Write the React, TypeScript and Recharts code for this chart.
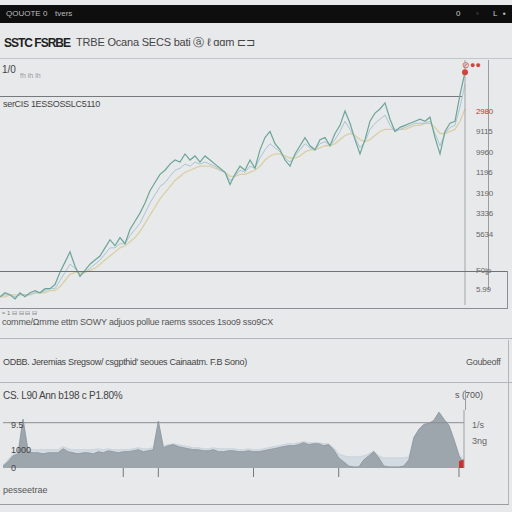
import React from "react";
import { ComposedChart, Line, Area, XAxis, YAxis, ReferenceLine, ReferenceDot } from "recharts";

// price panel, one value every 5px of the plot
const priceMain = [
  104, 106, 105, 103, 106, 104, 106, 107, 106, 108,
  108, 110, 116, 121, 126, 119, 114, 117, 120, 122,
  124, 128, 132, 129, 133, 130, 137, 141, 145, 150,
  156, 160, 164, 166, 169, 171, 170, 174, 171, 173,
  170, 173, 171, 169, 167, 165, 159, 164, 168, 166,
  171, 167, 176, 182, 185, 179, 176, 171, 168, 174,
  178, 182, 178, 176, 181, 182, 178, 184, 188, 195,
  189, 181, 174, 181, 190, 194, 196, 199, 191, 185,
  187, 188, 189, 190, 191, 190, 192, 182, 174, 185,
  189, 190, 203, 214,
];
const priceAvg = [
  104, 104, 105, 105, 105, 105, 105, 106, 106, 106,
  107, 107, 109, 112, 115, 116, 116, 116, 117, 118,
  120, 122, 124, 126, 128, 129, 131, 133, 136, 140,
  144, 148, 152, 155, 158, 161, 163, 165, 166, 167,
  168, 168, 168, 167, 166, 165, 163, 163, 164, 164,
  165, 166, 168, 171, 173, 174, 174, 173, 172, 172,
  173, 175, 176, 176, 177, 178, 178, 179, 181, 183,
  184, 183, 181, 180, 181, 183, 185, 186, 186, 186,
  186, 186, 187, 188, 188, 189, 189, 187, 184, 184,
  185, 186, 190, 196,
];
const priceAlt = [
  104, 105, 105, 104, 105, 105, 105, 106, 106, 107,
  108, 108, 112, 116, 120, 118, 115, 116, 118, 120,
  122, 125, 128, 128, 130, 130, 134, 137, 140, 145,
  150, 154, 158, 160, 163, 166, 167, 169, 168, 170,
  169, 170, 169, 168, 166, 165, 161, 163, 166, 165,
  168, 167, 172, 176, 179, 177, 175, 172, 170, 173,
  176, 179, 177, 176, 179, 180, 178, 181, 185, 190,
  186, 182, 177, 180, 186, 189, 191, 193, 188, 185,
  186, 187, 188, 189, 189, 189, 190, 184, 178, 184,
  187, 188, 197, 208,
];
const priceTicks = [108, 117, 135, 145, 155, 165, 175, 185, 195];
const priceTickLabels = ["5.99", "F0|p", "5634", "3336", "3190", "1196", "9960", "9115", "2980"];

// volume panel
const volume = [
  110, 340, 670, 780, 2690, 900, 840, 840, 780, 840,
  840, 840, 1060, 900, 840, 780, 840, 840, 780, 900,
  840, 950, 900, 840, 900, 900, 950, 1010, 900, 950,
  1010, 2580, 1120, 1230, 1290, 1180, 1120, 1060, 1010, 1010,
  950, 950, 1010, 900, 900, 950, 950, 900, 900, 950,
  900, 900, 950, 1010, 1060, 1120, 1180, 1230, 1230, 1290,
  1400, 1290, 1340, 1340, 1230, 1290, 1010, 560, 340, 110,
  60, 60, 450, 670, 900, 560, 110, 60, 60, 60,
  110, 450, 1680, 2130, 2410, 2460, 2630, 3080, 2690, 2350,
  1570, 670, 220,
];
const volumeShade = [
  170, 450, 780, 950, 2690, 1060, 1010, 1010, 1010, 1010,
  1010, 1010, 1180, 1060, 1010, 1010, 1010, 1010, 1010, 1060,
  1010, 1060, 1010, 1010, 1010, 1010, 1060, 1120, 1060, 1060,
  1120, 2580, 1230, 1290, 1340, 1290, 1230, 1180, 1120, 1120,
  1060, 1060, 1120, 1060, 1060, 1060, 1060, 1010, 1010, 1060,
  1010, 1010, 1060, 1120, 1180, 1230, 1290, 1340, 1340, 1400,
  1460, 1400, 1400, 1400, 1340, 1340, 1120, 780, 670, 620,
  620, 620, 670, 780, 950, 670, 560, 560, 560, 560,
  560, 620, 1680, 2130, 2410, 2460, 2630, 3080, 2690, 2350,
  1570, 780, 400,
];
const volumeLast = [350, 450];
const volLeftTicks = [0, 1000, 2400];
const volLeftLabels = ["0", "1000", "9.5"];
const volRightTicks = [1500, 2400];
const volRightLabels = ["3ng", "1/s"];
const volMarks = [24, 31, 50, 67, 91];

const priceData = priceMain.map((v, i) => ({ i, main: v, avg: priceAvg[i], alt: priceAlt[i] }));
const volData = volume.map((v, i) => ({
  i,
  vol: v,
  shade: volumeShade[i],
  last: i >= volume.length - volumeLast.length ? volumeLast[i - (volume.length - volumeLast.length)] : null,
}));

const PriceTick = (props: any) => {
  const { x, y, payload } = props;
  const k = priceTicks.indexOf(payload.value);
  const top = k === priceTicks.length - 1;
  return (
    <text x={x + 3} y={y + 3} fontSize={8} letterSpacing={-0.2} fill={top ? "#c0392b" : "#666"}>
      {priceTickLabels[k]}
    </text>
  );
};

const line = (left: number, top: number, w: number, h: number, c = "#8a8d91") => (
  <div style={{ position: "absolute", left, top, width: w, height: h, background: c }} />
);

const txt = (left: number, top: number, s: string, size = 10, color = "#333", extra: any = {}) => (
  <div style={{ position: "absolute", left, top, fontSize: size, color, whiteSpace: "nowrap", lineHeight: 1, ...extra }}>
    {s}
  </div>
);

export default function App() {
  return (
    <div
      style={{
        position: "fixed",
        left: 0,
        top: 0,
        width: 512,
        height: 512,
        background: "#e8e9eb",
        fontFamily: "'Liberation Sans', Arial, sans-serif",
        overflow: "hidden",
      }}
    >
      {/* top bar */}
      <div style={{ position: "absolute", left: 0, top: 5, width: 512, height: 18, background: "#0e0e0e" }} />
      {txt(6, 10, "QOUOTE 0", 8, "#bbb")}
      {txt(55, 10, "tvers", 8, "#bbb")}
      {txt(456, 10, "0", 8, "#ccc")}
      {txt(476, 10, "◦", 8, "#888")}
      {txt(493, 10, "L", 8, "#ccc")}
      {txt(503, 10, "▪", 8, "#ccc")}

      {/* title row */}
      {txt(4, 37, "SSTC FSRBE", 12, "#222", { fontWeight: "bold", letterSpacing: -1 })}
      {txt(76, 37, "TRBE Ocana  SECS bati ⓐ   ℓ ɑɑm   ⊏⊐", 11, "#444", { letterSpacing: -0.2 })}
      {line(0, 58, 512, 1, "#c4c6c9")}

      {/* main panel */}
      {txt(2, 65, "1/0", 10, "#444")}
      {txt(20, 72, "fh  ih  ih", 7, "#999")}
      {line(0, 96, 462, 1, "#77797c")}
      {txt(3, 100, "serCIS 1ESSOSSLC5110", 9, "#444", { letterSpacing: -0.3 })}
      {line(488, 60, 1, 230, "#9a9da0")}
      {txt(462, 61, "⊘●●", 9, "#d0443a")}

      <div style={{ position: "absolute", left: 0, top: 60 }}>
        <ComposedChart width={500} height={245} data={priceData} margin={{ top: 0, right: 0, bottom: 0, left: 0 }}>
          <XAxis dataKey="i" type="number" domain={[0, priceMain.length - 1]} hide />
          <YAxis
            orientation="right"
            width={35}
            domain={[100, 220]}
            ticks={priceTicks}
            interval={0}
            tick={<PriceTick />}
            tickLine={false}
            axisLine={{ stroke: "#a2a5a8" }}
          />
          <Line type="linear" dataKey="avg" stroke="#dacfa4" strokeWidth={1.3} dot={false} isAnimationActive={false} />
          <Line type="linear" dataKey="alt" stroke="#a9c4d4" strokeWidth={1} dot={false} isAnimationActive={false} />
          <Line type="linear" dataKey="main" stroke="#6ba596" strokeWidth={1.2} dot={false} isAnimationActive={false} />
          <ReferenceDot x={priceMain.length - 1} y={priceMain[priceMain.length - 1]} r={3} fill="#d0443a" stroke="none" />
        </ComposedChart>
      </div>

      {line(0, 271, 508, 1, "#6f7275")}
      {line(507, 271, 1, 38, "#8a8d91")}
      {line(0, 308, 508, 1, "#8a8d91")}

      {/* toolbar row */}
      {txt(2, 310, "≈ 1  ⊟ ⊟ ⊟  ⊟", 6, "#777")}
      {txt(2, 318, "comme/Ωmme ettm SOWY adjuos  pollue  raems  ssoces  1soo9  sso9CX", 9, "#555", { letterSpacing: -0.2 })}
      {line(0, 338, 512, 1, "#b4b6b9")}

      {txt(3, 358, "ODBB. Jeremias Sregsow/ csgpthid' seoues Cainaatm. F.B Sono)", 9, "#444", { letterSpacing: -0.3 })}
      {txt(466, 358, "Goubeoff", 9, "#555", { letterSpacing: -0.3 })}
      {line(0, 382, 512, 1, "#b4b6b9")}

      {/* volume panel */}
      {txt(3, 391, "CS. L90 Ann b198 c P1.80%", 10, "#444", { letterSpacing: -0.3 })}
      {txt(455, 391, "s (700)", 9, "#555")}
      {line(465, 390, 1, 20, "#9a9da0")}
      {line(508, 340, 1, 165, "#b4b6b9")}

      <div style={{ position: "absolute", left: 0, top: 406 }}>
        <ComposedChart width={490} height={72} data={volData} margin={{ top: 4, right: 0, bottom: 0, left: 3 }}>
          <XAxis
            dataKey="i"
            type="number"
            domain={[0, volume.length - 1]}
            ticks={volMarks}
            interval={0}
            tickFormatter={() => ""}
            tickSize={9}
            tickLine={{ stroke: "#777" }}
            axisLine={false}
            height={10}
          />
          <ReferenceLine yAxisId="l" y={2500} stroke="#8a8d91" />
          <Area yAxisId="l" type="linear" dataKey="shade" stroke="#c9d4dc" fill="#d2dbe1" fillOpacity={1} isAnimationActive={false} />
          <Area yAxisId="l" type="linear" dataKey="vol" stroke="#939ca4" fill="#9da6ad" fillOpacity={1} isAnimationActive={false} />
          <Area yAxisId="r" type="linear" dataKey="last" stroke="#d0302a" fill="#d0302a" fillOpacity={1} isAnimationActive={false} />
          <YAxis
            yAxisId="l"
            width={1}
            mirror
            domain={[0, 3200]}
            ticks={volLeftTicks}
            interval={0}
            tickFormatter={(v: number) => volLeftLabels[volLeftTicks.indexOf(v)]}
            tick={{ fontSize: 9, fill: "#444" }}
            tickLine={false}
            axisLine={false}
            allowDataOverflow
          />
          <YAxis
            yAxisId="r"
            orientation="right"
            width={26}
            domain={[0, 3200]}
            ticks={volRightTicks}
            interval={0}
            tickFormatter={(v: number) => volRightLabels[volRightTicks.indexOf(v)]}
            tick={{ fontSize: 9, fill: "#666" }}
            tickLine={false}
            axisLine={{ stroke: "#9a9da0" }}
          />
        </ComposedChart>
      </div>

      {txt(3, 486, "pesseetrae", 9, "#555")}
      {line(0, 504, 509, 1, "#9a9da0")}
    </div>
  );
}
